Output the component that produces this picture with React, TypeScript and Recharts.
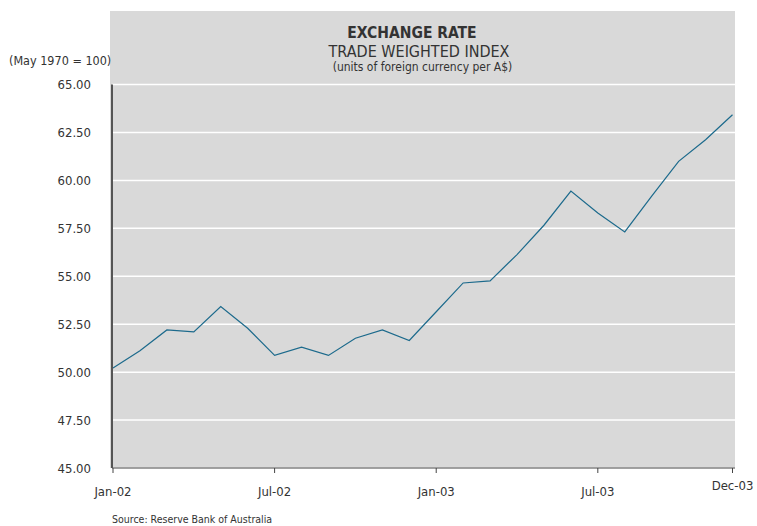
import { LineChart, Line, XAxis, YAxis, CartesianGrid } from 'recharts';

const MONTHS = [
  'Jan-02', 'Feb-02', 'Mar-02', 'Apr-02', 'May-02', 'Jun-02',
  'Jul-02', 'Aug-02', 'Sep-02', 'Oct-02', 'Nov-02', 'Dec-02',
  'Jan-03', 'Feb-03', 'Mar-03', 'Apr-03', 'May-03', 'Jun-03',
  'Jul-03', 'Aug-03', 'Sep-03', 'Oct-03', 'Nov-03', 'Dec-03',
];

const TWI = [
  50.22, 51.11, 52.2, 52.1, 53.42, 52.29,
  50.87, 51.3, 50.87, 51.77, 52.2, 51.65,
  53.15, 54.65, 54.76, 56.13, 57.66, 59.44,
  58.3, 57.31, 59.18, 60.99, 62.12, 63.42,
];

const X_TICKS = ['Jan-02', 'Jul-02', 'Jan-03', 'Jul-03', 'Dec-03'];
const Y_TICKS = [45, 47.5, 50, 52.5, 55, 57.5, 60, 62.5, 65];

const FONT = '"DejaVu Sans Condensed", "Liberation Sans Narrow", sans-serif';
const TEXT = '#333333';

const chartData = MONTHS.map((m, i) => ({ month: m, twi: TWI[i] }));

function MonthTick(props: any) {
  const { x, y, payload } = props;
  // last label sits a bit higher in the original
  const lift = payload.value === 'Dec-03' ? -6 : 0;
  return (
    <text
      x={x}
      y={y + lift}
      dy="0.71em"
      textAnchor="middle"
      fill={TEXT}
      fontSize={13}
      fontFamily={FONT}
    >
      {payload.value}
    </text>
  );
}

export default function App() {
  return (
    <div style={{ position: 'absolute', left: 0, top: 0, width: 757, height: 526, background: '#fff', overflow: 'hidden' }}>
      <div style={{ position: 'absolute', left: 110, top: 11, width: 625, height: 457, background: '#d9d9d9' }} />
      <div style={{ position: 'absolute', left: 0, top: 0 }}>
        <LineChart
          width={757}
          height={526}
          data={chartData}
          margin={{ top: 84.5, right: 22, bottom: 28, left: 0 }}
        >
          <CartesianGrid horizontal vertical={false} stroke="#ffffff" strokeWidth={1.5} />
          <XAxis
            dataKey="month"
            ticks={X_TICKS}
            interval={0}
            height={30}
            padding={{ left: 1, right: 2.5 }}
            axisLine={{ stroke: '#444', strokeWidth: 1 }}
            tickLine={{ stroke: '#444' }}
            tickSize={5}
            tickMargin={13.5}
            tick={<MonthTick />}
          />
          <YAxis
            domain={[45, 65]}
            ticks={Y_TICKS}
            width={112}
            axisLine={{ stroke: '#555', strokeWidth: 2 }}
            tickLine={false}
            tickMargin={15}
            tickFormatter={(v: number) => v.toFixed(2)}
            tick={{ fill: TEXT, fontSize: 13, fontFamily: FONT }}
          />
          <Line
            type="linear"
            dataKey="twi"
            stroke="#1c6a8c"
            strokeWidth={1.2}
            dot={false}
            isAnimationActive={false}
          />
        </LineChart>
      </div>
      <svg width={757} height={526} style={{ position: 'absolute', left: 0, top: 0, pointerEvents: 'none' }}>
        <g fontFamily={FONT} fill={TEXT}>
          <text x={412} y={37.7} textAnchor="middle" fontSize={15.5} fontWeight="bold">EXCHANGE RATE</text>
          <text x={419} y={56.7} textAnchor="middle" fontSize={16}>TRADE WEIGHTED INDEX</text>
          <text x={422.5} y={71} textAnchor="middle" fontSize={12}>(units of foreign currency per A$)</text>
          <text x={9} y={65} fontSize={12.5}>(May 1970 = 100)</text>
          <text x={112} y={523} fontSize={10.5}>Source: Reserve Bank of Australia</text>
        </g>
      </svg>
    </div>
  );
}
